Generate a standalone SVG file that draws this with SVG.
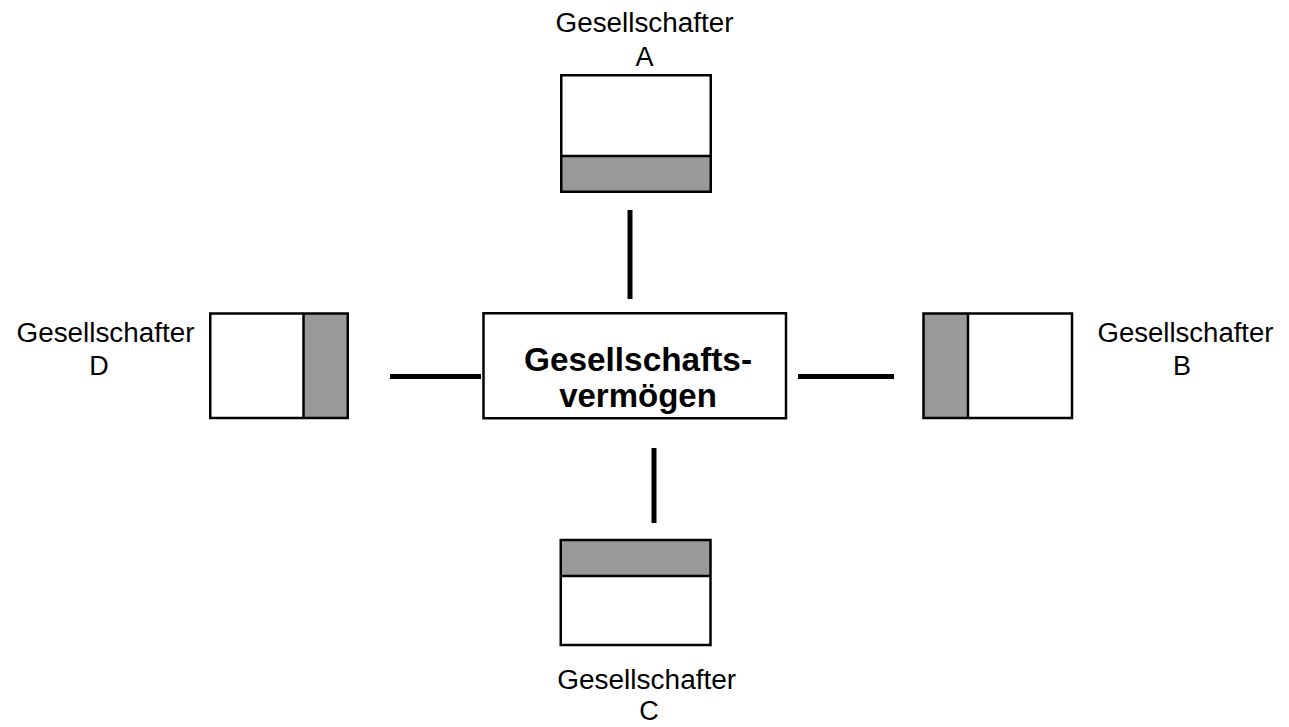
<svg xmlns="http://www.w3.org/2000/svg" width="1289" height="727" viewBox="0 0 1289 727">
  <style>
    .box { fill: none; stroke: #000; stroke-width: 2.5; }
    .bg { fill: #fff; }
    .share { fill: #999; }
    .div { stroke: #000; stroke-width: 2.5; }
    .lbl { font-family: "Liberation Sans", Arial, sans-serif; font-size: 27px; fill: #000; text-anchor: middle; }
    .title { font-family: "Liberation Sans", Arial, sans-serif; font-size: 33px; font-weight: bold; fill: #000; text-anchor: middle; }
    .link { stroke: #000; stroke-width: 5; }
  </style>
  <rect width="1289" height="727" fill="#fff"/>

  <!-- links between partners and company assets -->
  <g id="connectors">
    <line class="link" x1="630" y1="210" x2="630" y2="299"/>
    <line class="link" x1="798" y1="376.5" x2="894" y2="376.5"/>
    <line class="link" x1="654" y1="448" x2="654" y2="523"/>
    <line class="link" x1="390" y1="376.5" x2="481" y2="376.5"/>
  </g>

  <!-- company assets -->
  <g id="gesellschaftsvermoegen">
    <rect class="bg" x="483.5" y="313.25" width="302.5" height="105"/>
    <rect class="box" x="483.5" y="313.25" width="302.5" height="105"/>
    <text class="title" x="638" y="371" textLength="228" lengthAdjust="spacingAndGlyphs">Gesellschafts-</text>
    <text class="title" x="638" y="407">vermögen</text>
  </g>

  <!-- partner A (share at bottom) -->
  <g id="gesellschafter-a">
    <rect class="bg" x="561.25" y="75.25" width="149.5" height="116.5"/>
    <rect class="share" x="561.25" y="156" width="149.5" height="35.75"/>
    <line class="div" x1="561.25" y1="156" x2="710.75" y2="156"/>
    <rect class="box" x="561.25" y="75.25" width="149.5" height="116.5"/>
    <text class="lbl" x="644.5" y="32" textLength="178" lengthAdjust="spacingAndGlyphs">Gesellschafter</text>
    <text class="lbl" x="644.5" y="66">A</text>
  </g>

  <!-- partner B (share at left) -->
  <g id="gesellschafter-b">
    <rect class="bg" x="923.5" y="313.5" width="148.5" height="104.5"/>
    <rect class="share" x="923.5" y="313.5" width="44.5" height="104.5"/>
    <line class="div" x1="968" y1="313.5" x2="968" y2="418"/>
    <rect class="box" x="923.5" y="313.5" width="148.5" height="104.5"/>
    <text class="lbl" x="1185.5" y="341.5" textLength="176" lengthAdjust="spacingAndGlyphs">Gesellschafter</text>
    <text class="lbl" x="1182" y="375">B</text>
  </g>

  <!-- partner C (share at top) -->
  <g id="gesellschafter-c">
    <rect class="bg" x="560.75" y="540" width="149.75" height="105"/>
    <rect class="share" x="560.75" y="540" width="149.75" height="36"/>
    <line class="div" x1="560.75" y1="576" x2="710.5" y2="576"/>
    <rect class="box" x="560.75" y="540" width="149.75" height="105"/>
    <text class="lbl" x="646.7" y="689" textLength="179" lengthAdjust="spacingAndGlyphs">Gesellschafter</text>
    <text class="lbl" x="649" y="720">C</text>
  </g>

  <!-- partner D (share at right) -->
  <g id="gesellschafter-d">
    <rect class="bg" x="210.25" y="313.5" width="137.5" height="104.5"/>
    <rect class="share" x="303.5" y="313.5" width="44.25" height="104.5"/>
    <line class="div" x1="303.5" y1="313.5" x2="303.5" y2="418"/>
    <rect class="box" x="210.25" y="313.5" width="137.5" height="104.5"/>
    <text class="lbl" x="105.5" y="341.5" textLength="178" lengthAdjust="spacingAndGlyphs">Gesellschafter</text>
    <text class="lbl" x="99" y="375">D</text>
  </g>
</svg>
